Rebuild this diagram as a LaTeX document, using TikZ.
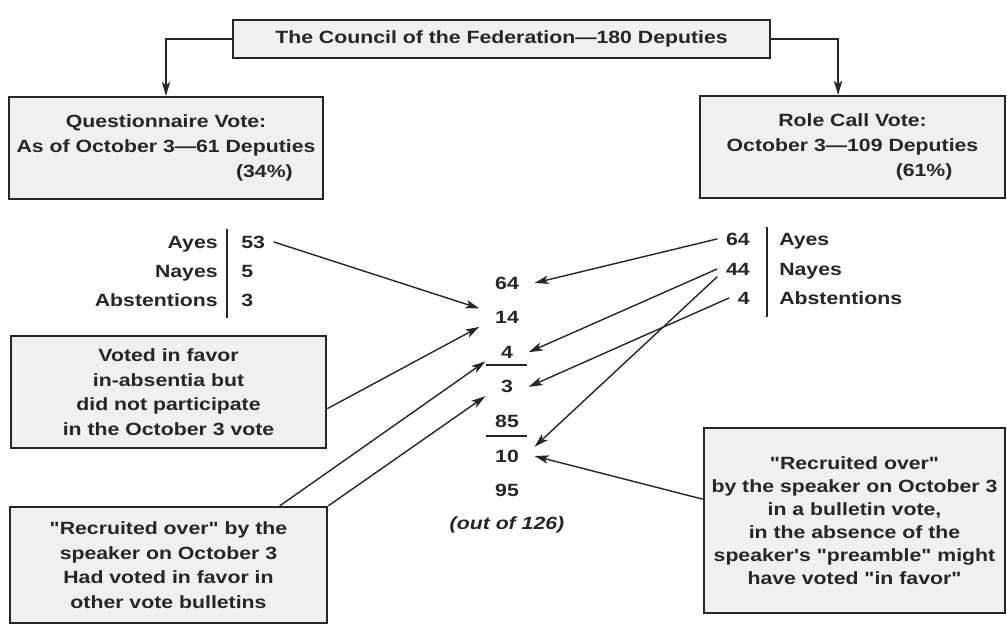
\documentclass[tikz,border=0pt]{standalone}
\usepackage{fontspec}
\newfontfamily\chartfont{Liberation Sans}[FakeStretch=1.2]
\usepackage{tikz}
\usetikzlibrary{arrows.meta, positioning}
\tikzstyle{arrow} = [line width=1pt, draw=black!85, -{Stealth[length=10pt,width=6pt,inset=2.5pt]}]

\begin{document}
\begin{tikzpicture}[
        x=0.025cm, y=-0.025cm,
        node distance=0.865cm, on grid,
        font=\chartfont\bfseries\fontsize{12.6}{17.5}\selectfont,
        text=black!85,
        panel/.style={draw=black!85, line width=1.6pt, fill=gray!12, align=center, inner sep=2pt},
        vote/.style={inner sep=0pt},
        tally/.style={inner xsep=6pt, inner ysep=1pt},
        total/.style={inner xsep=11pt, inner ysep=2pt},
        bar/.style={line width=1pt, draw=black!85},
        sumbar/.style={line width=2pt, draw=black!85}
    ]
        \useasboundingbox (0,0) rectangle (1007,625);

        % Top row of boxes
        \node[panel, minimum width=13.43cm, minimum height=0.95cm] (council) at (501.5,39) {The Council of the Federation—180 Deputies};
        \node[panel, minimum width=7.85cm, minimum height=2.55cm] (quest) at (166,148) {Questionnaire Vote:\\As of October 3—61 Deputies\\\hspace*{4.92cm}(34\%)};
        \node[panel, minimum width=7.63cm, minimum height=2.55cm] (rollcall) at (852.5,147) {Role Call Vote:\\October 3—109 Deputies\\\hspace*{3.58cm}(61\%)};

        % Questionnaire tally
        \node[vote, anchor=base east] (ayesL) at (218,248) {Ayes};
        \node[vote, anchor=base east] (nayesL) at (218,277) {Nayes};
        \node[vote, anchor=base east] (abstL) at (218,306) {Abstentions};
        \node[tally, anchor=base west] (n53) at (232.6,248) {53};
        \node[tally, anchor=base west] (n5) at (232.6,277) {5};
        \node[tally, anchor=base west] (n3) at (232.6,306) {3};
        \draw[bar] (227,229) -- (227,318);

        % Roll call tally
        \node[tally, anchor=base east] (r64) at (758.4,245) {64};
        \node[tally, anchor=base east] (r44) at (758.4,275) {44};
        \node[tally, anchor=base east] (r4) at (758.4,304) {4};
        \node[vote, anchor=base west] (ayesR) at (779,245) {Ayes};
        \node[vote, anchor=base west] (nayesR) at (779,275) {Nayes};
        \node[vote, anchor=base west] (abstR) at (779,304) {Abstentions};
        \draw[bar] (767,227) -- (767,317);

        % Totals column
        \node[total] (c64) at (507,283) {64};
        \node[total, below=of c64] (c14) {14};
        \node[total, below=of c14] (c4) {4};
        \node[total, below=of c4] (c3) {3};
        \node[total, below=of c3] (c85) {85};
        \node[total, below=of c85] (c10) {10};
        \node[total, below=of c10] (c95) {95};
        \node[total, below=of c95] (outof) {\itshape (out of 126)};
        \draw[sumbar] (486,365) -- (527,365);
        \draw[sumbar] (486,436) -- (527,436);

        % Notes
        \node[panel, minimum width=7.88cm, minimum height=2.8cm] (absentia) at (168.5,392) {Voted in favor\\in-absentia but\\did not participate\\in the October 3 vote};
        \node[panel, minimum width=7.93cm, minimum height=2.9cm] (recruitL) at (168.5,565) {"Recruited over" by the\\speaker on October 3\\Had voted in favor in\\other vote bulletins};
        \node[panel, minimum width=7.53cm, minimum height=4.63cm, font=\chartfont\bfseries\fontsize{12.6}{16.4}\selectfont] (recruitR) at (854.5,520.5) {"Recruited over"\\by the speaker on October 3\\in a bulletin vote,\\in the absence of the\\speaker's "preamble" might\\have voted "in favor"};

        % Arrows
        \draw[arrow] (council.west) -| (quest.north);
        \draw[arrow] (council.east) -| ([xshift=-0.36cm]rollcall.north);
        \draw[arrow] (n53.east) -- (c14.north west);
        \draw[arrow] (absentia.-6) -- (c14.south west);
        \draw[arrow] (recruitL.28) -- (c4.south west);
        \draw[arrow] (recruitL.north east) -- (c3.south west);
        \draw[arrow] (r64.west) -- (c64.east);
        \draw[arrow] (r44.west) -- (c4.east);
        \draw[arrow] (r44.south west) -- (c10.north east);
        \draw[arrow] (r4.west) -- (c3.east);
        \draw[arrow] (recruitR.172) -- (c10.east);
    \end{tikzpicture}
\end{document}
